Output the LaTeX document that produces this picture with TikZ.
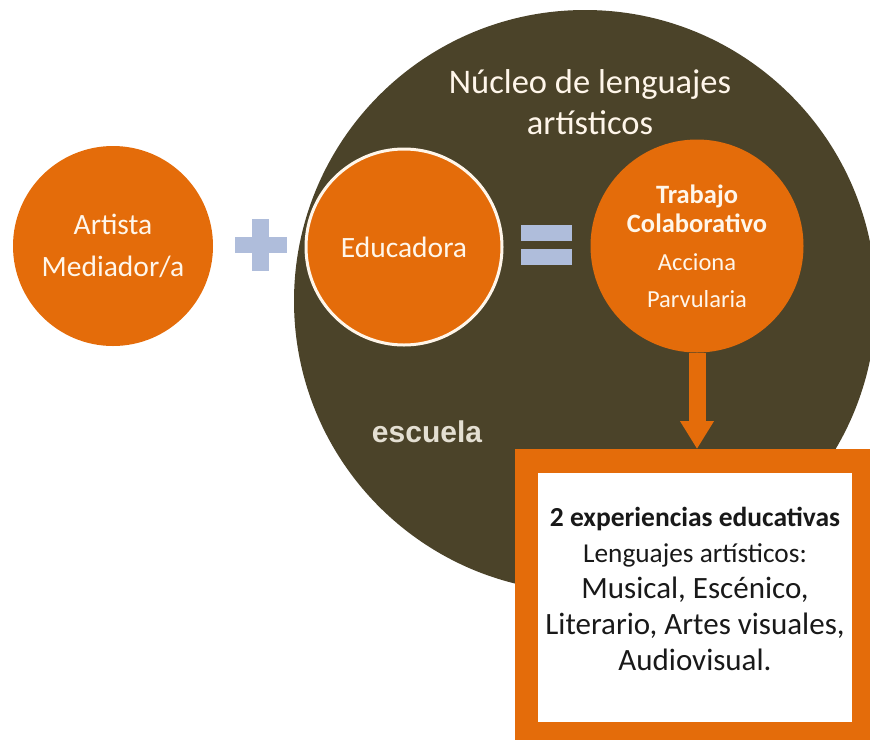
\documentclass[tikz,border=0pt]{standalone}
\usepackage{fontspec}
\setmainfont{Carlito}
\newfontfamily\escuelafont{Liberation Sans}
\usetikzlibrary{arrows.meta}

\definecolor{naranja}{HTML}{E46C0A}
\definecolor{oliva}{HTML}{4B4329}
\definecolor{celeste}{HTML}{AFBDDB}
\definecolor{crema}{HTML}{FFF6EA}
\definecolor{arena}{HTML}{E4DFD2}

\tikzset{
  bola/.style={circle, fill=naranja, minimum size=200pt, inner sep=0pt, text=crema, align=center},
  signo/.style={fill=celeste},
}

\begin{document}
\begin{tikzpicture}[x=1pt,y=-1pt]
    \useasboundingbox (0,0) rectangle (870,740);
    \clip (0,0) rectangle (870,740);

    %Nucleo
    \node[circle, fill=oliva, minimum size=582pt, inner sep=0pt] (nucleo) at (585,301) {};
    \node[text=crema, align=center, font=\fontsize{34.5}{41}\selectfont] (nucleotxt) at (590,102) {Núcleo de lenguajes\\artísticos};
    \node[text=arena, font=\escuelafont\bfseries\fontsize{30}{36}\selectfont] (escuela) at (427,432) {escuela};

    %Circles
    \node[bola, font=\fontsize{29.5}{42}\selectfont] (artista) at (113,246) {Artista\\Mediador/a};
    \node[bola, minimum size=196pt, draw=crema, line width=3pt, font=\fontsize{29.5}{36}\selectfont] (educadora) at (404,247) {Educadora};
    \node[bola, minimum size=213pt, font=\fontsize{26.5}{29}\selectfont] (trabajo) at (697,246)
        {\textbf{Trabajo}\\\textbf{Colaborativo}\\[9pt]{\fontsize{24.5}{29}\selectfont Acciona}\\[8pt]{\fontsize{24.5}{29}\selectfont Parvularia}};

    %Plus
    \fill[signo] (252,219) rectangle (269,271);
    \fill[signo] (235,237) rectangle (287,253);

    %Equals
    \fill[signo] (521,225) rectangle (572,241);
    \fill[signo] (521,249) rectangle (572,265);

    %Box
    \node[fill=naranja, minimum width=355pt, minimum height=291pt, inner sep=0pt, anchor=north west] (caja) at (515,449) {};
    \node[fill=white, minimum width=314pt, minimum height=249pt, inner sep=0pt, anchor=north west] (cajain) at (538,473) {};
    \node[align=center, text=black!90, font=\fontsize{31}{36}\selectfont] (experiencias) at (695,589)
        {{\fontsize{27.5}{36}\selectfont\textbf{2 experiencias educativas}}\\
         {\fontsize{27.3}{36}\selectfont Lenguajes artísticos:}\\
         Musical, Escénico,\\
         Literario, Artes visuales,\\
         Audiovisual.};

    %Arrow
    \draw[naranja, line width=17pt, -{Triangle[width=32pt,length=28pt]}] (trabajo.south) -- (trabajo.south |- caja.north);
\end{tikzpicture}
\end{document}
